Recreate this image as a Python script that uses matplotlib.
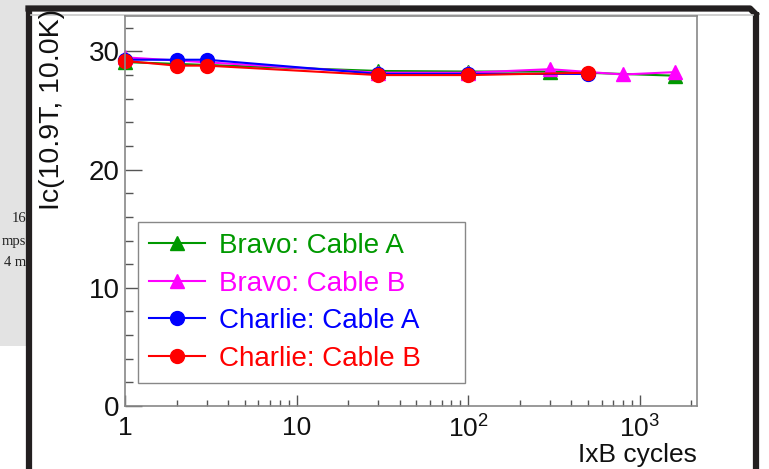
import matplotlib.pyplot as plt
from matplotlib.patches import Rectangle
from matplotlib.ticker import FixedLocator, NullFormatter, FixedFormatter

plt.rcParams['font.family'] = ['Liberation Sans', 'DejaVu Sans']
plt.rcParams['mathtext.fontset'] = 'custom'
plt.rcParams['mathtext.rm'] = 'Liberation Sans'
plt.rcParams['mathtext.it'] = 'Liberation Sans'

# data
bravo_a_x = [1, 30, 100, 300, 1600]
bravo_a_y = [29.1, 28.35, 28.3, 28.3, 27.95]
bravo_b_x = [1, 30, 100, 300, 800, 1600]
bravo_b_y = [29.5, 28.2, 28.2, 28.5, 28.05, 28.25]
charlie_a_x = [1, 2, 3, 30, 100, 500]
charlie_a_y = [29.3, 29.3, 29.3, 28.1, 28.1, 28.1]
charlie_b_x = [1, 2, 3, 30, 100, 500]
charlie_b_y = [29.2, 28.8, 28.8, 28.0, 28.0, 28.2]

names = ['Bravo: Cable A', 'Bravo: Cable B', 'Charlie: Cable A', 'Charlie: Cable B']
colors = ['#009900', '#ff00ff', '#0000ff', '#ff0000']
markers = ['^', '^', 'o', 'o']
xs = [bravo_a_x, bravo_b_x, charlie_a_x, charlie_b_x]
ys = [bravo_a_y, bravo_b_y, charlie_a_y, charlie_b_y]

W, H = 769, 469
fig = plt.figure(figsize=(W / 100, H / 100), dpi=100)

# background screenshot bits (pixel coordinates)
bg = fig.add_axes([0, 0, 1, 1], zorder=0)
bg.set_xlim(0, W)
bg.set_ylim(H, 0)
bg.axis('off')
bg.add_patch(Rectangle((0, 0), 400, 6, color='#e3e3e3', lw=0))
bg.add_patch(Rectangle((0, 0), 28, 346, color='#e3e3e3', lw=0))
for yy, s in [(219, '16'), (241, 'mps'), (262, '4 m')]:
    bg.text(26, yy, s, ha='right', va='center', fontsize=10.5,
            family='Liberation Serif', color='#222222')
bg.plot([28.5, 28.5], [H + 5, 8.5], color='#231f20', lw=4.5, solid_capstyle='butt')
bg.plot([28.5, 750, 755.5], [8.5, 8.5, 14], color='#231f20', lw=4.5, solid_joinstyle='round')
bg.plot([755.5, 755.5], [12, H + 5], color='#231f20', lw=4.5, solid_capstyle='butt')
bg.plot([31, 753], [15, 15], color='#c8c8c8', lw=1.2)

# y title and x title in figure pixels
bg.text(52, 9, 'Ic(10.9T, 10.0K)', rotation=90, ha='center', va='top', fontsize=20.5, color='#111111')
bg.text(697, 467, 'IxB cycles', ha='right', va='bottom', fontsize=19, color='#111111')

ax = fig.add_axes([125 / W, (H - 406) / H, (697 - 125) / W, (406 - 16) / H], zorder=1)
ax.patch.set_alpha(0)

for x, y, c, m, n in zip(xs, ys, colors, markers, names):
    ax.plot(x, y, color=c, marker=m, markersize=10, lw=1.5, label=n, clip_on=False)

ax.set_xscale('log')
ax.set_xlim(1, 2160)
ax.set_ylim(0, 33)

ax.xaxis.set_major_locator(FixedLocator([1, 10, 100, 1000]))
ax.xaxis.set_major_formatter(FixedFormatter(['1', '10', '$10^{2}$', '$10^{3}$']))
minors = [k * 10 ** e for e in range(0, 4) for k in range(2, 10) if k * 10 ** e < 2160]
ax.xaxis.set_minor_locator(FixedLocator(minors))
ax.xaxis.set_minor_formatter(NullFormatter())
ax.yaxis.set_major_locator(FixedLocator([0, 10, 20, 30]))
ax.yaxis.set_minor_locator(FixedLocator([v for v in range(2, 33, 2) if v % 10]))

ax.tick_params(which='both', direction='in', color='#555555', width=1, labelsize=20,
               labelcolor='#111111', top=False, right=False)
ax.tick_params(axis='y', which='major', length=12, pad=4)
ax.tick_params(axis='y', which='minor', length=6)
ax.tick_params(axis='x', which='major', length=8, pad=7, labelsize=19)
ax.tick_params(axis='x', which='minor', length=4)
for sp in ax.spines.values():
    sp.set_color('#888888')
    sp.set_linewidth(1.2)

leg = ax.legend(loc='lower left', bbox_to_anchor=(0.023, 0.059, 0.571, 0.408),
                mode='expand', fontsize=20,
                frameon=True, fancybox=False, edgecolor='#888888', framealpha=1,
                handlelength=2.0, handletextpad=0.5, labelspacing=0.42,
                borderpad=0.4, borderaxespad=0)
leg.get_frame().set_linewidth(1)
for t, c in zip(leg.get_texts(), colors):
    t.set_color(c)

fig.savefig('out.png', dpi=100)
